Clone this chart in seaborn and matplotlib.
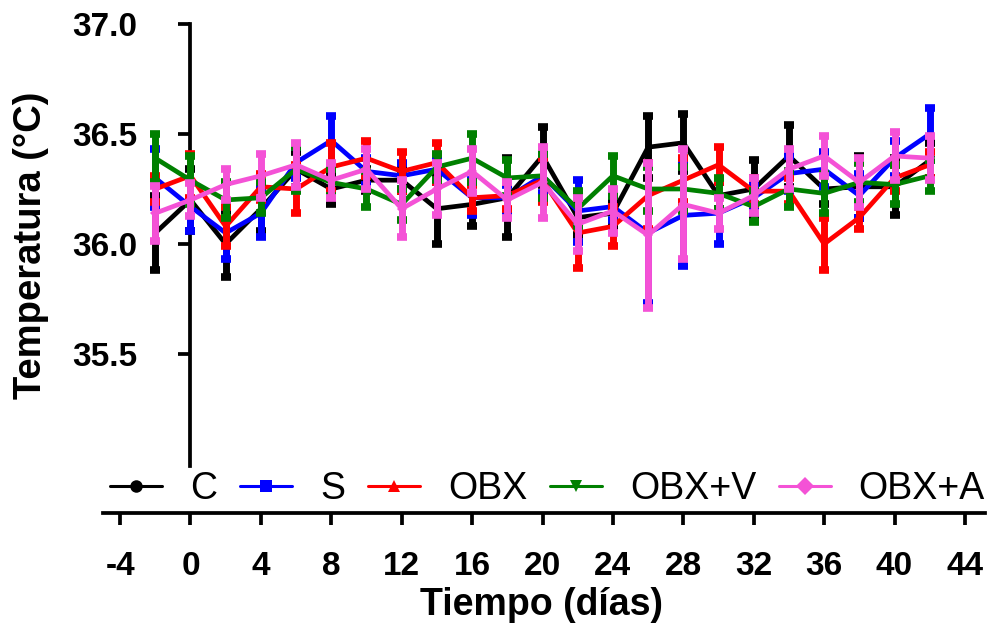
import numpy as np
import pandas as pd
import matplotlib
matplotlib.use('Agg')
import matplotlib.pyplot as plt
import seaborn as sns
from matplotlib.lines import Line2D

# datos (media y SEM por grupo)
dias = [-2, 0, 2, 4, 6, 8, 10, 12, 14, 16, 18, 20, 22, 24, 26, 28, 30, 32, 34, 36, 38, 40, 42]
grupos = ['C', 'S', 'OBX', 'OBX+V', 'OBX+A']

c_media = [36.05, 36.20, 36.00, 36.16, 36.34, 36.25, 36.29, 36.29, 36.16, 36.18, 36.21, 36.40,
           36.12, 36.14, 36.44, 36.46, 36.22, 36.25, 36.40, 36.25, 36.26, 36.26, 36.38]
c_sem = [0.17, 0.14, 0.15, 0.10, 0.08, 0.07, 0.05, 0.05, 0.16, 0.10, 0.18, 0.13,
         0.08, 0.06, 0.14, 0.13, 0.06, 0.13, 0.14, 0.07, 0.14, 0.13, 0.08]

s_media = [36.30, 36.17, 36.05, 36.14, 36.37, 36.47, 36.33, 36.31, 36.34, 36.21, 36.21, 36.31,
           36.15, 36.17, 36.05, 36.13, 36.14, 36.21, 36.32, 36.34, 36.22, 36.39, 36.50]
s_sem = [0.13, 0.11, 0.12, 0.11, 0.07, 0.11, 0.06, 0.06, 0.06, 0.08, 0.06, 0.08,
         0.14, 0.06, 0.32, 0.23, 0.14, 0.06, 0.08, 0.08, 0.10, 0.08, 0.12]

obx_media = [36.25, 36.31, 36.08, 36.26, 36.25, 36.35, 36.39, 36.33, 36.37, 36.21, 36.22, 36.29,
             36.05, 36.08, 36.22, 36.29, 36.36, 36.24, 36.24, 36.00, 36.12, 36.30, 36.36]
obx_sem = [0.06, 0.10, 0.09, 0.06, 0.11, 0.11, 0.08, 0.09, 0.09, 0.06, 0.06, 0.10,
           0.16, 0.09, 0.15, 0.10, 0.08, 0.06, 0.06, 0.12, 0.05, 0.06, 0.06]

obxv_media = [36.39, 36.29, 36.20, 36.21, 36.34, 36.28, 36.25, 36.18, 36.35, 36.39, 36.30, 36.31,
              36.16, 36.31, 36.25, 36.25, 36.23, 36.17, 36.25, 36.23, 36.28, 36.27, 36.31]
obxv_sem = [0.11, 0.11, 0.08, 0.07, 0.10, 0.06, 0.08, 0.07, 0.06, 0.11, 0.08, 0.10,
            0.08, 0.09, 0.10, 0.10, 0.07, 0.07, 0.08, 0.09, 0.09, 0.09, 0.07]

obxa_media = [36.14, 36.20, 36.27, 36.31, 36.36, 36.29, 36.34, 36.16, 36.25, 36.33, 36.20, 36.28,
              36.09, 36.15, 36.04, 36.18, 36.14, 36.22, 36.34, 36.40, 36.28, 36.40, 36.39]
obxa_sem = [0.125, 0.075, 0.07, 0.10, 0.10, 0.08, 0.09, 0.13, 0.12, 0.10, 0.08, 0.16,
            0.12, 0.10, 0.33, 0.25, 0.07, 0.08, 0.09, 0.09, 0.11, 0.11, 0.10]

medias = [c_media, s_media, obx_media, obxv_media, obxa_media]
sems = [c_sem, s_sem, obx_sem, obxv_sem, obxa_sem]

colores = ['#000000', '#0000FF', '#FF0000', '#008000', '#F452D6']
marcadores = ['o', 's', '^', 'v', 'D']

df = pd.concat([pd.DataFrame({'dia': dias, 'temp': m, 'err': s, 'grupo': g})
                for g, m, s in zip(grupos, medias, sems)], ignore_index=True)

sns.set_style('ticks')
plt.rcParams['font.family'] = ['Liberation Sans', 'DejaVu Sans']
plt.rcParams['axes.unicode_minus'] = False
for k in ['text.color', 'axes.edgecolor', 'axes.labelcolor', 'xtick.color', 'ytick.color']:
    plt.rcParams[k] = 'black'

fig = plt.figure(figsize=(9.89, 6.23), dpi=100)
ax = fig.add_axes([103/989, 1 - 513/623, 882/989, 489/623])

for i, g in enumerate(grupos):
    d = df[df['grupo'] == g]
    ax.errorbar(d['dia'], d['temp'], yerr=d['err'], fmt='none', ecolor=colores[i],
                elinewidth=5, capsize=3.4, capthick=5.5, zorder=3 + i)
    sns.lineplot(data=d, x='dia', y='temp', color=colores[i], marker=marcadores[i],
                 markersize=5, markeredgewidth=0, linewidth=3.4, errorbar=None,
                 ax=ax, zorder=3 + i, legend=False)

ax.set_xlim(-4.97, 45.14)
ax.set_ylim(34.777, 37.0)
ax.set_xticks(np.arange(-4, 45, 4))
ax.set_yticks([35.5, 36.0, 36.5, 37.0])
ax.set_yticklabels(['35.5', '36.0', '36.5', '37.0'])
ax.set_xlabel('')
ax.set_ylabel('')

ax.spines['top'].set_visible(False)
ax.spines['right'].set_visible(False)
ax.spines['left'].set_position(('data', 0))
ax.spines['left'].set_bounds(34.99, 37.0)
for sp in ['left', 'bottom']:
    ax.spines[sp].set_linewidth(2.7)
    ax.spines[sp].set_color('black')

ax.tick_params(axis='both', width=2.7, length=8.5, direction='out', labelsize=24,
               color='black', labelcolor='black')
ax.tick_params(axis='y', pad=30)
ax.tick_params(axis='x', pad=19)
for lbl in ax.get_xticklabels() + ax.get_yticklabels():
    lbl.set_fontweight('bold')

fig.text(0.0313, 0.6067, 'Temperatura (°C)', rotation=90, ha='center', va='center',
         fontsize=27.5, fontweight='bold', color='black')
fig.text(0.548, 1 - 615/623, 'Tiempo (días)', ha='center', va='baseline',
         fontsize=27, fontweight='bold', color='black')

handles = [Line2D([], [], color=c, marker=m, markersize=9, linewidth=2.2, markeredgewidth=0)
           for c, m in zip(colores, marcadores)]
leg = ax.legend(handles, grupos, loc='center left', bbox_to_anchor=(110/989, 1 - 489/623),
                bbox_transform=fig.transFigure, ncol=5, fontsize=27, frameon=False,
                borderpad=0, borderaxespad=0, handlelength=1.39, handletextpad=0.75,
                columnspacing=0.6)
for t in leg.get_texts():
    t.set_color('black')

fig.savefig('out.png', dpi=100)
